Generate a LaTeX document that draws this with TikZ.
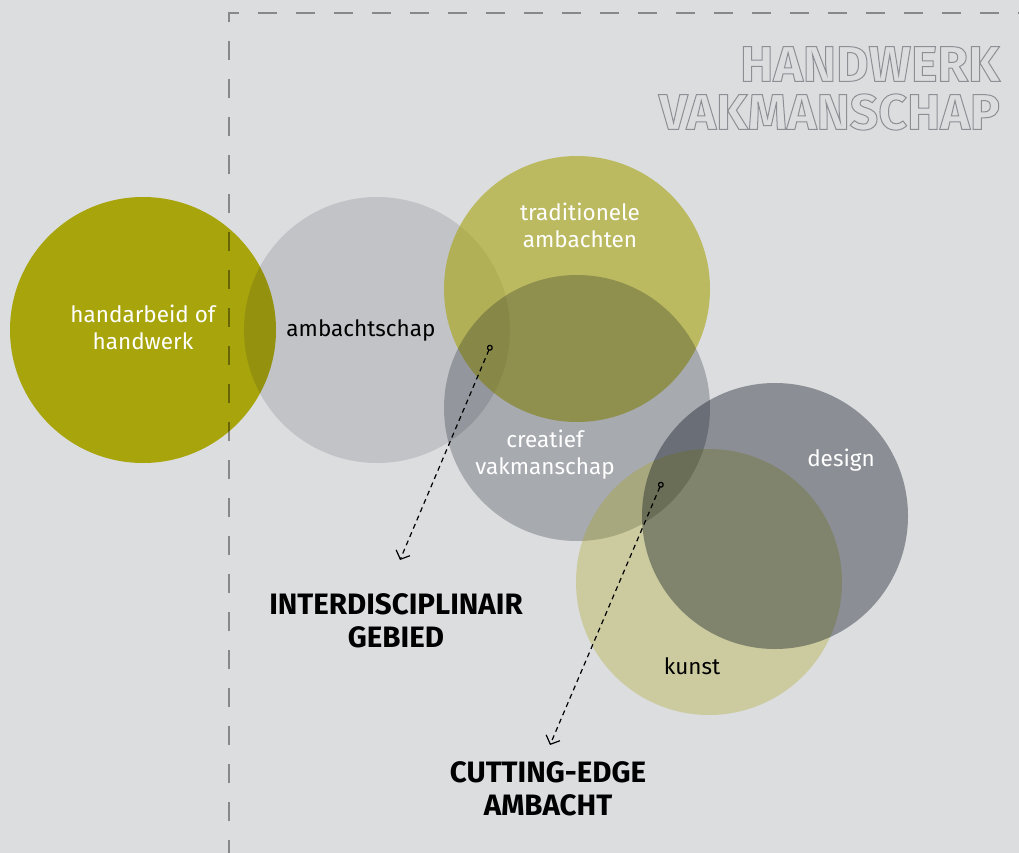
\documentclass[tikz,border=0pt]{standalone}
\usepackage{fontspec}
\setmainfont{Fira Sans}
\usetikzlibrary{arrows.meta}
\definecolor{bg}{HTML}{DCDDDF}
\definecolor{olive}{HTML}{A8A40C}
\definecolor{slate}{HTML}{020B18}
\definecolor{titlegray}{HTML}{8C9095}
\begin{document}
\begin{tikzpicture}[x=1pt,y=-1pt,
  disc/.style={circle, minimum size=266pt, inner sep=0pt, draw=none},
  lbl/.style={font=\fontsize{22.5}{27}\selectfont, align=center, inner sep=0pt},
  big/.style={font=\fontsize{29.5}{32.5}\selectfont\bfseries, align=center, inner sep=0pt},
  ttl/.style={font=\fontsize{50}{50}\selectfont\bfseries, text=titlegray, anchor=east, inner sep=0pt},
  pointer/.style={line width=1.2pt, dash pattern=on 5pt off 4pt,
    {Circle[open,length=6pt,width=6pt]}-{Straight Barb[length=7pt,width=15pt]}}]
\useasboundingbox (0,0) rectangle (1019,853);
\fill[bg] (0,0) rectangle (1019,853);
% circles
\node[disc, fill=olive] (hand) at (143,330) {};
\node[disc, fill=slate, fill opacity=0.12] (amb) at (377,330) {};
\node[disc, fill=olive, fill opacity=0.6] (trad) at (577,289) {};
\node[disc, fill=slate, fill opacity=0.24] (crea) at (577,408) {};
\node[disc, fill=olive, fill opacity=0.3] (kunst) at (709,582) {};
\node[disc, fill=slate, fill opacity=0.37] (design) at (775,516) {};
% frame
\draw[black, draw opacity=0.38, line width=1.5pt, dash pattern=on 19pt off 19pt, dash phase=5.5pt]
  (229,853) coordinate (fb) -- (229,13) coordinate (fc) -- (1019,13) coordinate (fr);
% labels
\node[lbl, text=white] (thand) at (143,327) {handarbeid of\\handwerk};
\node[lbl, text=black] (tamb) at (361,330) {ambachtschap};
\node[lbl, text=white] (ttrad) at (580,225) {traditionele\\ambachten};
\node[lbl, text=white] (tcrea) at (545,455) {creatief\\vakmanschap};
\node[lbl, text=white] (tdesign) at (841,460) {design};
\node[lbl, text=black] (tkunst) at (692,666) {kunst};
% pointers
\coordinate (p1s) at (491,345);
\coordinate (p1e) at (400,560);
\coordinate (p2s) at (662,482);
\coordinate (p2e) at (550,745);
\draw[pointer] (p1s) -- (p1e);
\draw[pointer] (p2s) -- (p2e);
\node[big] (inter) at (396,621) {INTERDISCIPLINAIR\\GEBIED};
\node[big] (cut) at (548,789) {CUTTING-EDGE\\AMBACHT};
% title
\node[ttl] (h1) at (1000,64) {\special{pdf:literal direct 1 Tr 1 w}HANDWERK\special{pdf:literal direct 0 Tr}};
\node[ttl] (h2) at (1000,112) {\special{pdf:literal direct 1 Tr 1 w}VAKMANSCHAP\special{pdf:literal direct 0 Tr}};
\end{tikzpicture}
\end{document}
